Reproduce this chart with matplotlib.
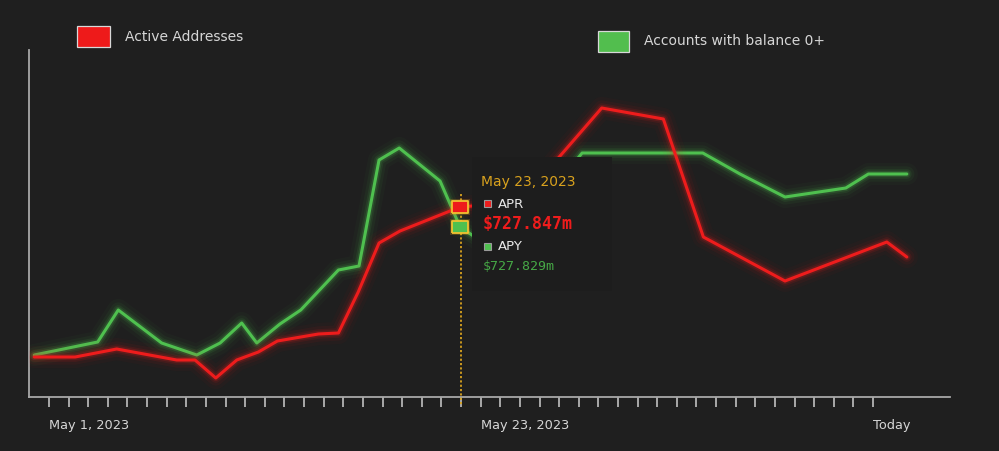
import matplotlib.pyplot as plt
from matplotlib.patches import Rectangle

# data (x = days since May 1, 2023; y = index value)
green_x = [-0.75, 2.48, 3.53, 5.74, 7.53, 8.72, 9.82, 10.59, 11.77, 12.83, 14.75, 15.80,
           16.82, 17.85, 19.93, 20.95, 22.99, 27.17, 33.32, 35.22, 37.51, 40.61, 41.76, 43.72]
green_y = [42, 55, 87, 54, 42, 54, 74, 54, 73, 87, 127, 131,
           237, 249, 216, 170, 143, 244, 244, 223, 200, 209, 223, 223]

red_x = [-0.75, 1.33, 3.45, 6.51, 7.44, 8.50, 9.57, 10.67, 11.64, 13.73, 14.75, 15.76,
         16.82, 17.89, 20.95, 24.01, 28.17, 31.31, 33.35, 37.51, 42.70, 43.72]
red_y = [40, 40, 48, 37, 37, 19, 37, 45, 56, 63, 64, 105,
         154, 166, 190, 195, 289, 278, 160, 116, 155, 140]

tick_days = list(range(0, 43))
tick_labels = {0: "May 1, 2023", 22: "May 23, 2023", 42: "Today"}

hover_day = 20.95
hover_date = "May 23, 2023"
apr_text = "$727.847m"
apy_text = "$727.829m"

bg = '#1f1f1f'
red = '#ee1c1c'
green = '#4fc04f'
gold = '#d9a21e'
txt = '#d6d6d6'

W, H = 999, 452
fig = plt.figure(figsize=(W / 100, H / 100), dpi=100, facecolor=bg)
ax = fig.add_axes([29 / W, 1 - 398 / H, (950 - 29) / W, (398 - 51) / H])
ax.set_facecolor(bg)


def fx(px):
    return px / W


def fy(py):
    return 1 - py / H


# glowing lines
for xs, ys, c, z in [(green_x, green_y, green, 2), (red_x, red_y, red, 3)]:
    for lw, a in [(16, 0.03), (11, 0.06), (7, 0.1), (4.5, 0.18)]:
        ax.plot(xs, ys, color=c, lw=lw, alpha=a, solid_joinstyle='round',
                solid_capstyle='round', zorder=z)
    ax.plot(xs, ys, color=c, lw=2.2, solid_joinstyle='round', solid_capstyle='round', zorder=z)

ax.set_xlim(-1.02, 45.92)
ax.set_ylim(0, 347)

for s in ['top', 'right']:
    ax.spines[s].set_visible(False)
for s in ['left', 'bottom']:
    ax.spines[s].set_color('#a8a8a8')
    ax.spines[s].set_linewidth(1.3)
ax.set_yticks([])
ax.set_xticks(tick_days)
ax.set_xticklabels([])
ax.tick_params(axis='x', length=7, width=1.1, color='#cfcfcf')
for d, lab in tick_labels.items():
    ax.text(d, -0.078, lab, transform=ax.get_xaxis_transform(), ha='left', va='center',
            color=txt, fontsize=9.3)

# hover cursor
ax.plot([hover_day + 0.05, hover_day + 0.05], [203, -8], color=gold, lw=1.3,
        ls=(0, (1.2, 1.2)), clip_on=False, zorder=4)

# tooltip box
fig.patches.append(Rectangle((fx(471.7), fy(292)), fx(611.7) - fx(471.7), fy(158) - fy(292),
                             transform=fig.transFigure, facecolor='#1d1d1d', edgecolor='none',
                             zorder=5))
ax.set_zorder(1)

rect = [(-1.3, -1), (1.3, -1), (1.3, 1), (-1.3, 1), (-1.3, -1)]
for yv, c in [(190, red), (170, green)]:
    ax.plot([hover_day], [yv], marker=rect, ms=15, color=gold, alpha=0.25, mew=0, zorder=6)
    ax.plot([hover_day], [yv], marker=rect, ms=11, color=c, mec='#f2c230', mew=1.3, zorder=7)

fig.text(fx(481), fy(182), hover_date, color=gold, fontsize=10, va='center', ha='left', zorder=8)
fig.patches.append(Rectangle((fx(484), fy(208)), 7 / W, 7 / H, transform=fig.transFigure,
                             facecolor=red, edgecolor='#9a9a9a', lw=0.8, zorder=8))
fig.text(fx(498), fy(204), "APR", color='#e8e8e8', fontsize=9.5, va='center', ha='left', zorder=8)
fig.text(fx(483), fy(224), apr_text, color=red, fontsize=12, fontweight='bold',
         family='DejaVu Sans Mono', va='center', ha='left', zorder=8)
fig.patches.append(Rectangle((fx(484), fy(251)), 7 / W, 7 / H, transform=fig.transFigure,
                             facecolor=green, edgecolor='#9a9a9a', lw=0.8, zorder=8))
fig.text(fx(498), fy(247), "APY", color='#e8e8e8', fontsize=9.5, va='center', ha='left', zorder=8)
fig.text(fx(483), fy(267), apy_text, color='#46a846', fontsize=9.5,
         family='DejaVu Sans Mono', va='center', ha='left', zorder=8)

# legend
for (x0, y0, x1, y1), c, lab, tx, ty in [((77, 27, 110, 48), '#ee1a1a', "Active Addresses", 125, 37),
                                        ((598, 32, 629, 53), '#52be4e', "Accounts with balance 0+", 644, 41)]:
    fig.patches.append(Rectangle((fx(x0), fy(y1)), fx(x1) - fx(x0), fy(y0) - fy(y1),
                                 transform=fig.transFigure, facecolor=c, edgecolor='#d8d8d8', lw=0.9))
    fig.text(fx(tx), fy(ty), lab, color=txt, fontsize=10, va='center', ha='left')

fig.savefig('out.png', dpi=100, facecolor=bg)
